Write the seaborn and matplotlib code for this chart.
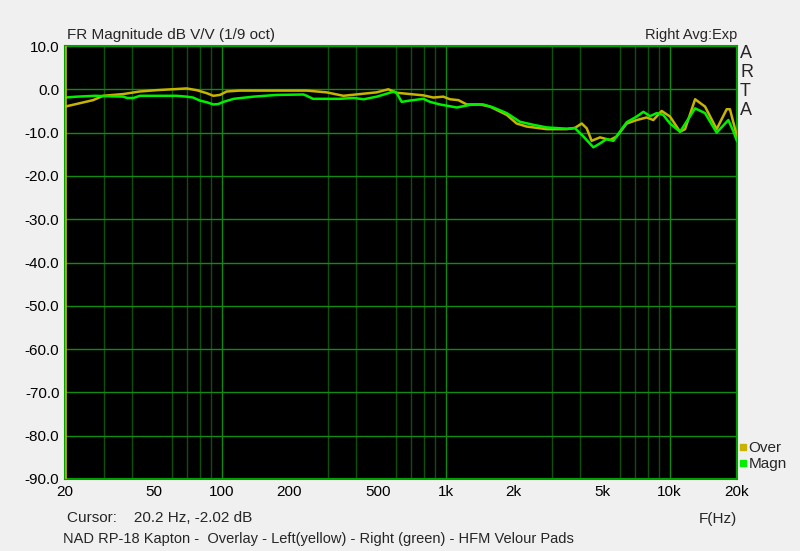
import numpy as np
import pandas as pd
import matplotlib
matplotlib.use("Agg")
import matplotlib.pyplot as plt
from matplotlib.lines import Line2D
import seaborn as sns

# ---------------------------------------------
# data (Hz, dB)
# ---------------------------------------------
over_freq = [20, 26.7, 29.6, 36.4, 43.2, 51.3, 69.8, 77.4, 85.9, 91.9, 98.4,
             105.4, 120.9, 148, 200, 240, 294, 350, 415, 493, 555, 605, 694,
             796, 881, 977, 1047, 1141, 1243, 1425, 1579, 1875, 2076, 2302,
             2826, 3474, 3784, 4053, 4266, 4490, 4890, 5421, 5807, 6435, 7131,
             7903, 8460, 9220, 10046, 11138, 11725, 13000, 14400, 16230,
             17990, 18600, 20000]
over_db = [-4.0, -2.5, -1.5, -1.1, -0.5, -0.2, 0.2, -0.2, -0.9, -1.5, -1.3,
           -0.5, -0.3, -0.3, -0.3, -0.3, -0.7, -1.5, -1.1, -0.7, 0.0, -0.8, -1.1,
           -1.4, -1.9, -1.7, -2.3, -2.5, -3.5, -3.5, -4.0, -5.9, -7.9, -8.6,
           -9.2, -9.2, -8.9, -7.9, -9.0, -11.9, -11.1, -11.7, -10.9, -7.9, -7.1,
           -6.5, -7.1, -5.0, -6.3, -9.8, -9.2, -2.3, -4.0, -9.2,
           -4.6, -4.6, -10.9]

magn_freq = [20, 22.6, 27.3, 36.4, 37.9, 40.4, 43.2, 53.2, 62.8, 69.8, 74.6,
             80, 85.9, 91.9, 96.8, 101.9, 113.3, 138.6, 176, 232, 240, 256,
             294, 338, 389, 431, 493, 555, 587, 605, 637, 694, 796, 852, 944,
             1122, 1286, 1473, 1633, 1875, 2148, 2464, 2826, 3474, 3784, 4122,
             4571, 4890, 5236, 5612, 6435, 7131, 7641, 8180, 8763, 9365, 10046,
             11138, 13000, 14400, 16230, 18300, 19300, 20000]
magn_db = [-1.9, -1.7, -1.5, -1.7, -2.0, -2.0, -1.5, -1.5, -1.5, -1.7, -1.9,
           -2.6, -3.0, -3.5, -3.4, -2.9, -2.2, -1.7, -1.3, -1.2, -1.5, -2.2,
           -2.2, -2.2, -2.0, -2.3, -1.7, -0.9, -0.5, -0.9, -2.9, -2.6, -2.2, -2.9, -3.5,
           -4.2, -3.6, -3.5, -4.2, -5.5, -7.5, -8.2, -8.8, -9.1, -9.0, -10.9,
           -13.4, -12.5, -11.5, -11.9, -7.6, -6.3, -5.2, -6.2, -5.5, -5.9, -7.9,
           -9.8, -4.4, -5.5, -10.0, -7.1, -9.8, -12.0]

x_ticks = [20, 50, 100, 200, 500, 1000, 2000, 5000, 10000, 20000]
x_tick_labels = ["20", "50", "100", "200", "500", "1k", "2k", "5k", "10k", "20k"]
y_ticks = list(range(-90, 11, 10))

df = pd.concat([
    pd.DataFrame({"f": over_freq, "db": over_db, "trace": "Over"}),
    pd.DataFrame({"f": magn_freq, "db": magn_db, "trace": "Magn"}),
])

# ---------------------------------------------
# plot
# ---------------------------------------------
sns.set_style("dark")
plt.rcParams["font.family"] = ["Liberation Sans", "DejaVu Sans"]

BG = "#F0F0F0"
GRID_MAJ = "#138A13"
GRID_MIN = "#0B500B"
YEL = "#C8B400"
GRN = "#00F000"

fig = plt.figure(figsize=(8.0, 5.51), dpi=100, facecolor=BG)
ax = fig.add_axes([65 / 800, 1 - 479 / 551, 672 / 800, 433 / 551])
ax.set_facecolor("black")

sns.lineplot(data=df, x="f", y="db", hue="trace",
             palette={"Over": YEL, "Magn": GRN}, linewidth=1.8,
             ax=ax, legend=False, sort=False, estimator=None, zorder=3)

ax.axvline(20.2, color=YEL, lw=1.2, zorder=3)

ax.set_xscale("log")
ax.set_xlim(20, 20000)
ax.set_ylim(-90, 10)
ax.set_xticks(x_ticks)
ax.set_xticklabels(x_tick_labels)
ax.set_yticks(y_ticks)
ax.set_yticklabels([f"{v:.1f}" for v in y_ticks])
ax.xaxis.set_minor_locator(matplotlib.ticker.LogLocator(base=10, subs=np.arange(2, 10)))
ax.xaxis.set_minor_formatter(matplotlib.ticker.NullFormatter())
ax.set_axisbelow(True)
ax.grid(False)
ax.grid(True, which="minor", axis="x", color=GRID_MIN, lw=1.0)
ax.grid(True, which="major", axis="y", color=GRID_MAJ, lw=1.0)
for dec in [100, 1000, 10000]:
    ax.axvline(dec, color=GRID_MAJ, lw=1.0, zorder=1)
ax.tick_params(which="both", length=0, labelsize=11, colors="black", pad=4)
ax.set_xlabel("")
ax.set_ylabel("")
for s in ax.spines.values():
    s.set_visible(True)
    s.set_color("#00A000")
    s.set_linewidth(1.5)

fig.text(67 / 800, 1 - 35 / 551, "FR Magnitude dB V/V (1/9 oct)",
         fontsize=11, va="center", ha="left")
fig.text(737 / 800, 1 - 35 / 551, "Right Avg:Exp",
         fontsize=10.5, va="center", ha="right")
fig.text(740 / 800, 1 - 45 / 551, "A\nR\nT\nA", fontsize=13, va="top",
         ha="left", linespacing=1.15)
fig.text(718 / 800, 1 - 519 / 551, "F(Hz)", fontsize=11, va="center", ha="center")
fig.text(67 / 800, 1 - 518 / 551, "Cursor:    20.2 Hz, -2.02 dB",
         fontsize=11, va="center", ha="left")
fig.text(63 / 800, 1 - 539 / 551,
         "NAD RP-18 Kapton -  Overlay - Left(yellow) - Right (green) - HFM Velour Pads",
         fontsize=10.5, va="center", ha="left")

handles = [Line2D([], [], ls="", marker="s", ms=4, color=YEL, label="Over"),
           Line2D([], [], ls="", marker="s", ms=4, color=GRN, label="Magn")]
ax.legend(handles=handles, loc="lower left", bbox_to_anchor=(0.993, 0.0),
          frameon=False, fontsize=11, handlelength=0.4, handletextpad=0.15,
          labelspacing=0.15, borderaxespad=0.1)

plt.savefig("out.png", dpi=100, facecolor=BG)
